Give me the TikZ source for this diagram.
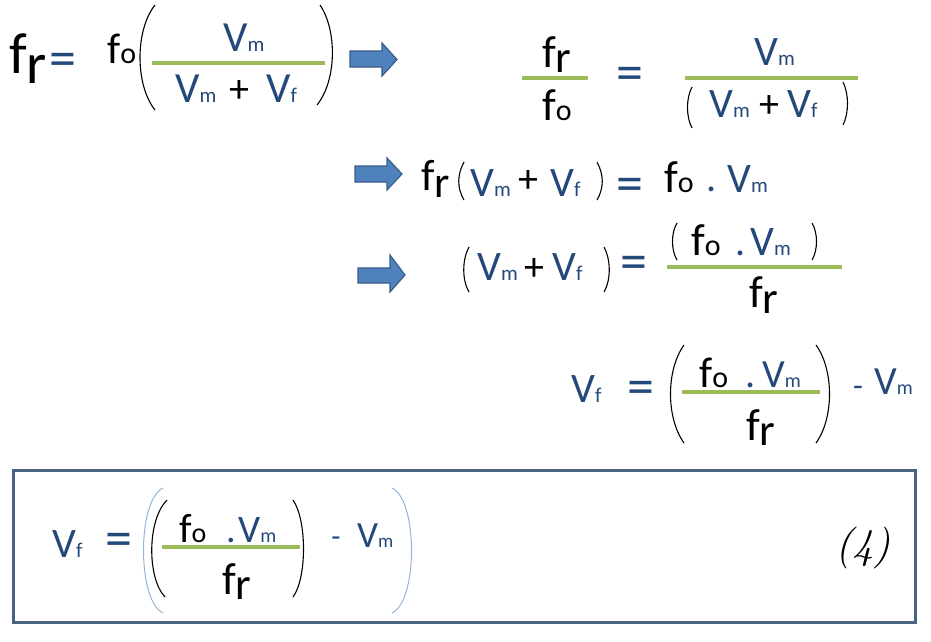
\documentclass[tikz,border=0pt]{standalone}
\usepackage{fontspec}
\setmainfont{Carlito}
\newfontfamily\handfont{lmroman10-italic.otf}
\definecolor{eqblue}{RGB}{35,72,122}
\definecolor{lineGreen}{RGB}{155,187,89}
\definecolor{arrowFill}{RGB}{79,129,189}
\definecolor{arrowEdge}{RGB}{56,93,138}
\definecolor{boxEdge}{RGB}{74,98,130}
\definecolor{parLight}{RGB}{149,179,215}
\newcommand\sz[1]{\fontsize{#1}{#1}\selectfont}
\newcommand\Vsub[3]{{\color{eqblue}\sz{#1}V\sz{#2}#3}}
\newcommand\fsubo[2]{{\sz{#1}f\sz{#2}o}}
\newcommand\fsubr[2]{{\sz{#1}f\raisebox{-#2pt}{r}}}

\begin{document}
\begin{tikzpicture}[x=1pt, y=-1pt,
						txt/.style={inner sep=0pt, anchor=base west},
						sym/.style={inner sep=0pt, anchor=center},
						eqsign/.style={sym, text=eqblue, font=\sz{54}},
						plus/.style={sym, font=\sz{40}},
						fracline/.style={lineGreen, line width=3.5pt},
						paren/.style={line width=1.1pt},
						blockarrow/.style={fill=arrowFill, draw=arrowEdge, line width=1.2pt, line join=miter},
						]
						\useasboundingbox (0,0) rectangle (931,641);
						%Row 1, left
						\node[txt]      (fra) 	at	(9,73) 	{\fsubr{58}{10}};
						\node[eqsign]   (eqa) 	at	(63,65) 	{=};
						\node[txt]      (foa) 	at	(107,63) 	{\fsubo{43}{30}};
						\node[txt]      (vma) 	at	(223,51) 	{\Vsub{43}{21}{m}};
						\node[txt]      (vmb) 	at	(175,102) 	{\Vsub{43}{21}{m}};
						\node[plus]     (pla) 	at	(239,91) 	{+};
						\node[txt]      (vfa) 	at	(266,102) 	{\Vsub{43}{21}{f}};
						\draw[paren] (155,5) .. controls (135,30) and (135,85) .. (155,110);
						\draw[paren] (320,5) .. controls (337,30) and (337,80) .. (317,105);
						\draw[fracline] (152,63) -- (325,63);
						\draw[blockarrow] (350,51) -- (382,51) -- (382,43) -- (397,59.5) -- (382,76) -- (382,67) -- (350,67) -- cycle;

						%Row 1, right
						\node[txt]      (frb) 	at	(542,67) 	{\fsubr{45}{5}};
						\node[txt]      (fob) 	at	(542,120) 	{\fsubo{45}{30}};
						\draw[fracline] (522,78) -- (588,78);
						\node[eqsign]   (eqb) 	at	(630,79) 	{=};
						\node[txt]      (vmc) 	at	(754,65) 	{\Vsub{42}{21}{m}};
						\draw[fracline] (685,78) -- (858,78);
						\draw[paren] (692,87) .. controls (686,98) and (686,117) .. (692,128);
						\draw[paren] (843,82) .. controls (849,94) and (849,113) .. (843,125);
						\node[txt]      (vmd) 	at	(709,117) 	{\Vsub{42}{21}{m}};
						\node[plus]     (plb) 	at	(769,106) 	{+};
						\node[txt]      (vfb) 	at	(787,117) 	{\Vsub{42}{21}{f}};

						%Row 2
						\draw[blockarrow] (355,166) -- (387,166) -- (387,158) -- (402,174) -- (387,190) -- (387,182) -- (355,182) -- cycle;
						\node[txt]      (frc) 	at	(421,190) 	{\fsubr{44}{7}};
						\draw[paren] (464,162) .. controls (457,175) and (457,188) .. (464,200);
						\draw[paren] (597,162) .. controls (604,175) and (604,188) .. (597,200);
						\node[txt]      (vme) 	at	(470,196) 	{\Vsub{42}{21}{m}};
						\node[plus]     (plc) 	at	(528,181) 	{+};
						\node[txt]      (vfc) 	at	(550,196) 	{\Vsub{42}{21}{f}};
						\node[eqsign]   (eqc) 	at	(630,190) 	{=};
						\node[txt]      (foc) 	at	(664,192) 	{\fsubo{45}{30}};
						\node[txt]      (dotc) 	at	(706,191) 	{\color{eqblue}\sz{40}.};
						\node[txt]      (vmf) 	at	(727,192) 	{\Vsub{42}{21}{m}};

						%Row 3
						\draw[blockarrow] (358,268) -- (390,268) -- (390,255) -- (405,275) -- (390,292) -- (390,283) -- (358,283) -- cycle;
						\draw[paren] (469,247) .. controls (462,260) and (462,280) .. (469,292);
						\draw[paren] (604,247) .. controls (611,260) and (611,280) .. (604,292);
						\node[txt]      (vmg) 	at	(477,280) 	{\Vsub{42}{21}{m}};
						\node[plus]     (pld) 	at	(534,269) 	{+};
						\node[txt]      (vfd) 	at	(552,280) 	{\Vsub{42}{21}{f}};
						\node[eqsign]   (eqd) 	at	(634,268) 	{=};
						\draw[paren] (677,223) .. controls (671,233) and (671,250) .. (677,260);
						\draw[paren] (812,223) .. controls (818,233) and (818,250) .. (812,260);
						\node[txt]      (fod) 	at	(691,255) 	{\fsubo{45}{30}};
						\node[txt]      (dotd) 	at	(735,255) 	{\color{eqblue}\sz{40}.};
						\node[txt]      (vmh) 	at	(750,255) 	{\Vsub{42}{21}{m}};
						\draw[fracline] (667,267) -- (842,267);
						\node[txt]      (frd) 	at	(749,307) 	{\fsubr{45}{6}};

						%Row 4
						\node[txt]      (vfe) 	at	(571,402) 	{\Vsub{42}{21}{f}};
						\node[eqsign]   (eqe) 	at	(641,393) 	{=};
						\draw[paren] (684,345) .. controls (666,370) and (666,418) .. (684,443);
						\draw[paren] (816,345) .. controls (834,370) and (834,418) .. (816,443);
						\node[txt]      (foe) 	at	(699,387) 	{\fsubo{43}{30}};
						\node[txt]      (dote) 	at	(745,387) 	{\color{eqblue}\sz{40}.};
						\node[txt]      (vmi) 	at	(762,387) 	{\Vsub{40}{20}{m}};
						\draw[fracline] (682,392) -- (820,392);
						\node[txt]      (fre) 	at	(746,440) 	{\fsubr{45}{5}};
						\node[sym]      (mine) 	at	(858,391) 	{\color{eqblue}\sz{32}-};
						\node[txt]      (vmj) 	at	(874,394) 	{\Vsub{40}{20}{m}};

						%Boxed result
						\draw[boxEdge, line width=3pt] (13,470) rectangle (915,622);
						\node[txt]      (vff) 	at	(52,557) 	{\Vsub{42}{21}{f}};
						\node[eqsign]   (eqf) 	at	(119,545) 	{=};
						\draw[parLight, line width=1pt] (163,488) .. controls (137,500) and (137,601) .. (163,613);
						\draw[parLight, line width=1pt] (392,488) .. controls (418,500) and (418,601) .. (392,613);
						\draw[paren] (167,500) .. controls (147,520) and (147,578) .. (165,597);
						\draw[paren] (293,500) .. controls (307,520) and (307,578) .. (293,597);
						\node[txt]      (fof) 	at	(179,542) 	{\fsubo{41}{28}};
						\node[txt]      (dotf) 	at	(226,542) 	{\color{eqblue}\sz{38}.};
						\node[txt]      (vmk) 	at	(238,542) 	{\Vsub{39}{20}{m}};
						\draw[fracline] (162,547) -- (300,547);
						\node[txt]      (frf) 	at	(222,594) 	{\fsubr{45}{5}};
						\node[sym]      (minf) 	at	(336,542) 	{\color{eqblue}\sz{30}-};
						\node[txt]      (vml) 	at	(357,547) 	{\Vsub{37}{19}{m}};
						\node[sym]      (num4) 	at	(863,548) 	{\handfont\sz{42}(4)};
					\end{tikzpicture}
\end{document}
